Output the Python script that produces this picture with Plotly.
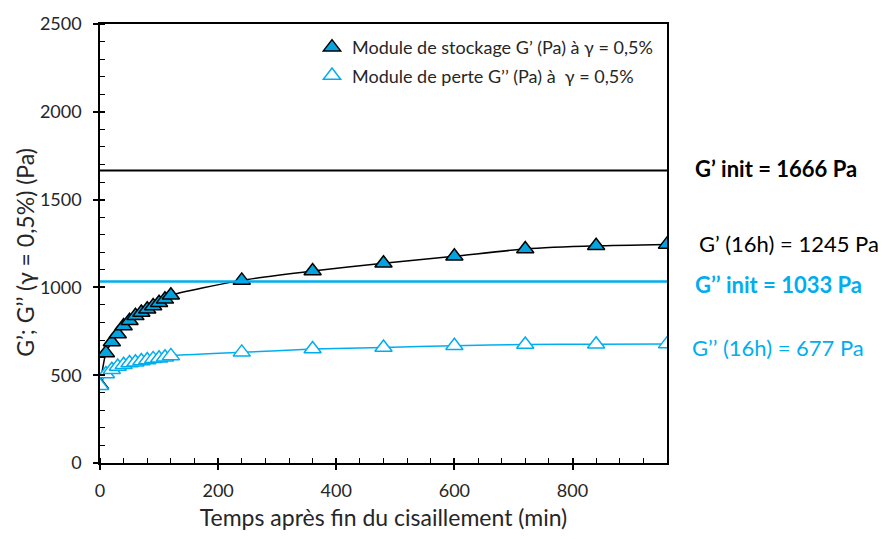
import plotly.graph_objects as go

# Temps après fin du cisaillement (min)
temps = [0, 10, 20, 30, 40, 50, 60, 70, 80, 90, 100, 110, 120,
         240, 360, 480, 600, 720, 840, 960]
# Module de stockage G' (Pa)
g_stockage = [445, 627, 689, 735, 780, 810, 838, 857, 876, 894, 913, 932, 955,
              1040, 1093, 1138, 1177, 1219, 1237, 1245]
# Module de perte G'' (Pa)
g_perte = [440, 507, 531, 550, 559, 569, 574, 581, 587, 593, 597, 602, 610,
           630, 649, 658, 668, 675, 676, 677]

# Valeurs initiales avant cisaillement (Pa)
g_stockage_init = 1666
g_perte_init = 1033
t_fin = 960

FONT = "Lato"
BLUE = "#00AEEF"
FILL = "#05A4DF"
TXT = "#262626"

W, H = 882, 539
L, R, T, B = 100, 667, 20, 465


def px(x):
    return (x - L) / (R - L)


def py(y):
    return (B - y) / (B - T)


fig = go.Figure()

# Niveaux initiaux
fig.add_trace(go.Scatter(x=[0, t_fin], y=[g_stockage_init] * 2, mode="lines",
                         line=dict(color="black", width=2), showlegend=False,
                         hoverinfo="skip", xaxis="x2", yaxis="y2"))
fig.add_trace(go.Scatter(x=[0, t_fin], y=[g_perte_init] * 2, mode="lines",
                         line=dict(color=BLUE, width=2.5), showlegend=False,
                         hoverinfo="skip", xaxis="x2", yaxis="y2"))

# Courbes lissées
fig.add_trace(go.Scatter(x=temps, y=g_stockage, mode="lines", showlegend=False,
                         line=dict(color="black", width=1.5, shape="spline",
                                   smoothing=0.6), hoverinfo="skip"))
fig.add_trace(go.Scatter(x=temps, y=g_perte, mode="lines", showlegend=False,
                         line=dict(color=BLUE, width=1.5, shape="spline",
                                   smoothing=0.6), hoverinfo="skip"))

# Points mesurés
fig.add_trace(go.Scatter(
    x=temps, y=g_stockage, mode="markers",
    name="Module de stockage G’ (Pa) à γ = 0,5%",
    marker=dict(symbol="triangle-up", size=15, color=FILL,
                line=dict(color="black", width=1.5)),
    legendgroup="a",
))
fig.add_trace(go.Scatter(
    x=temps, y=g_perte, mode="markers",
    name="Module de perte G’’ (Pa) à  γ = 0,5%",
    marker=dict(symbol="triangle-up", size=15, color="white",
                line=dict(color=BLUE, width=1.5)),
    legendgroup="b",
))

axis_common = dict(showline=True, linecolor="black", linewidth=1.5,
                   showgrid=False, zeroline=False, mirror=True)

fig.update_layout(
    width=W, height=H,
    margin=dict(l=L, r=W - R, t=T, b=H - B),
    paper_bgcolor="white", plot_bgcolor="white",
    font=dict(family=FONT, color=TXT),
    xaxis=dict(range=[0, t_fin], dtick=200, tick0=0, ticks="outside",
               ticklen=5, tickwidth=1.5, tickcolor="black",
               minor=dict(dtick=40, ticks="inside", ticklen=5,
                          tickwidth=1.2, tickcolor="black"),
               tickfont=dict(size=18, color=TXT),
               ticklabelstandoff=6,
               title=dict(text="Temps après fin du cisaillement (min)",
                          font=dict(size=23, color=TXT), standoff=10),
               **axis_common),
    yaxis=dict(range=[0, 2500], dtick=500, tick0=0, ticks="outside",
               ticklen=5, tickwidth=1.5, tickcolor="black",
               minor=dict(dtick=100, ticks="inside", ticklen=5,
                          tickwidth=1.2, tickcolor="black"),
               tickfont=dict(size=18, color=TXT),
               ticklabelstandoff=8,
               **axis_common),
    xaxis2=dict(range=[0, t_fin], overlaying="x", dtick=200, tick0=0,
                ticks="inside", ticklen=5, tickwidth=1.5, tickcolor="black",
                showticklabels=False, showgrid=False, zeroline=False,
                showline=False),
    yaxis2=dict(range=[0, 2500], overlaying="y", dtick=500, tick0=0,
                ticks="inside", ticklen=5, tickwidth=1.5, tickcolor="black",
                showticklabels=False, showgrid=False, zeroline=False,
                showline=False),
    legend=dict(x=px(312), y=py(25), xanchor="left", yanchor="top",
                bgcolor="rgba(255,255,255,0)", tracegroupgap=2,
                font=dict(size=18, color=TXT)),
    showlegend=True,
)

annotations = [
    dict(text="G’; G’’ (γ = 0,5%) (Pa)", x=px(25), y=py(252), textangle=-90,
         font=dict(size=23, color=TXT)),
    dict(text=f"<b>G’ init = {g_stockage_init} Pa</b>", x=px(693), y=py(166),
         xanchor="left", font=dict(size=22, color="black")),
    dict(text=f"G’ (16h) = {g_stockage[-1]} Pa", x=px(697), y=py(243),
         xanchor="left", font=dict(size=22, color="black")),
    dict(text=f"<b>G’’ init = {g_perte_init} Pa</b>", x=px(693), y=py(284),
         xanchor="left", font=dict(size=22, color=BLUE)),
    dict(text=f"G’’ (16h) = {g_perte[-1]} Pa", x=px(690), y=py(348),
         xanchor="left", font=dict(size=22, color=BLUE)),
]
for a in annotations:
    a.update(xref="paper", yref="paper", showarrow=False)
    a.setdefault("xanchor", "center")
    a.setdefault("yanchor", "middle")
fig.update_layout(annotations=annotations)

fig.write_html("out.html")
